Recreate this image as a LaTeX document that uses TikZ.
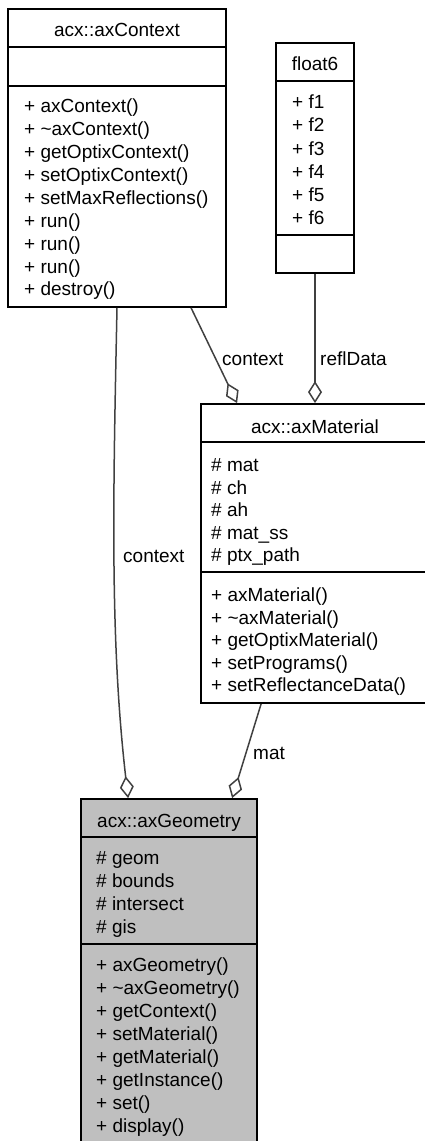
\documentclass[tikz,border=0pt]{standalone}
\usepackage{fontspec}
\setmainfont{Liberation Sans}
\usetikzlibrary{arrows.meta}
\definecolor{linegray}{HTML}{404040}
\definecolor{boxgray}{HTML}{BFBFBF}
\tikzset{
  classbox/.style={draw=black, line width=1.8pt, rectangle, inner sep=0pt, fill=white},
  member/.style={anchor=base west, inner sep=0pt},
  ctitle/.style={anchor=base, inner sep=0pt},
  sepline/.style={draw=black, line width=1.8pt},
  rel/.style={draw=linegray, line width=1.5pt,
    -{Diamond[open, length=22pt, width=14pt, line width=1.5pt]}},
  rellabel/.style={anchor=base west, inner sep=0pt},
}
\begin{document}
\begin{tikzpicture}[x=1pt, y=-1pt, font=\fontsize{19}{23}\selectfont]
\useasboundingbox (0,0) rectangle (425,1141);

% class boxes
\node[classbox, minimum width=218pt, minimum height=298pt] (ctx) at (117,158) {};
\node[classbox, minimum width=78pt, minimum height=230pt] (flt) at (315,158) {};
\node[classbox, minimum width=228pt, minimum height=299pt] (mat) at (315,553.5) {};
\node[classbox, fill=boxgray, minimum width=176pt, minimum height=344pt] (geo) at (169,971) {};

% compartment separators
\draw[sepline] (ctx.west |- 0,47) -- (ctx.east |- 0,47);
\draw[sepline] (ctx.west |- 0,86) -- (ctx.east |- 0,86);
\draw[sepline] (flt.west |- 0,81) -- (flt.east |- 0,81);
\draw[sepline] (flt.west |- 0,235) -- (flt.east |- 0,235);
\draw[sepline] (mat.west |- 0,442) -- (mat.east |- 0,442);
\draw[sepline] (mat.west |- 0,572) -- (mat.east |- 0,572);
\draw[sepline] (geo.west |- 0,837) -- (geo.east |- 0,837);
\draw[sepline] (geo.west |- 0,944) -- (geo.east |- 0,944);

% acx::axContext
\node[ctitle] (ctxT) at (117,36.7) {acx::axContext};
\node[member] (ctxM1) at (24,112.7) {+ axContext()};
\node[member] (ctxM2) at (24,135.6) {+ \textasciitilde axContext()};
\node[member] (ctxM3) at (24,158.5) {+ getOptixContext()};
\node[member] (ctxM4) at (24,181.4) {+ setOptixContext()};
\node[member] (ctxM5) at (24,204.3) {+ setMaxReflections()};
\node[member] (ctxM6) at (24,227.2) {+ run()};
\node[member] (ctxM7) at (24,250.1) {+ run()};
\node[member] (ctxM8) at (24,273.0) {+ run()};
\node[member] (ctxM9) at (24,295.9) {+ destroy()};

% float6
\node[ctitle] (fltT) at (315,70) {float6};
\node[member] (fltA1) at (292,108.7) {+ f1};
\node[member] (fltA2) at (292,131.9) {+ f2};
\node[member] (fltA3) at (292,155.1) {+ f3};
\node[member] (fltA4) at (292,178.3) {+ f4};
\node[member] (fltA5) at (292,201.5) {+ f5};
\node[member] (fltA6) at (292,224.7) {+ f6};

% acx::axMaterial
\node[ctitle] (matT) at (315,433) {acx::axMaterial};
\node[member] (matA1) at (211,471.7) {\# mat};
\node[member] (matA2) at (211,494.2) {\# ch};
\node[member] (matA3) at (211,516.7) {\# ah};
\node[member] (matA4) at (211,539.2) {\# mat\_ss};
\node[member] (matA5) at (211,561.7) {\# ptx\_path};
\node[member] (matM1) at (211,601.7) {+ axMaterial()};
\node[member] (matM2) at (211,624.2) {+ \textasciitilde axMaterial()};
\node[member] (matM3) at (211,646.7) {+ getOptixMaterial()};
\node[member] (matM4) at (211,669.2) {+ setPrograms()};
\node[member] (matM5) at (211,691.7) {+ setReflectanceData()};

% acx::axGeometry
\node[ctitle] (geoT) at (169,827) {acx::axGeometry};
\node[member] (geoA1) at (96,864.7) {\# geom};
\node[member] (geoA2) at (96,887.6) {\# bounds};
\node[member] (geoA3) at (96,910.5) {\# intersect};
\node[member] (geoA4) at (96,933.4) {\# gis};
\node[member] (geoM1) at (96,971.7) {+ axGeometry()};
\node[member] (geoM2) at (96,994.6) {+ \textasciitilde axGeometry()};
\node[member] (geoM3) at (96,1017.5) {+ getContext()};
\node[member] (geoM4) at (96,1040.4) {+ setMaterial()};
\node[member] (geoM5) at (96,1063.3) {+ getMaterial()};
\node[member] (geoM6) at (96,1086.2) {+ getInstance()};
\node[member] (geoM7) at (96,1109.1) {+ set()};
\node[member] (geoM8) at (96,1132.0) {+ display()};

% aggregation relations
\draw[rel] (ctx.south) .. controls (113,500) and (110,640) .. ([xshift=48pt]geo.north west);
\draw[rel] ([xshift=184pt]ctx.south west) -- ([xshift=37pt]mat.north west);
\draw[rel] (flt.south) -- (mat.north);
\draw[rel] ([xshift=61pt]mat.south west) -- ([xshift=152pt]geo.north west);

% relation labels
\node[rellabel] (lblA) at (222,365) {context};
\node[rellabel] (lblB) at (320,365) {reflData};
\node[rellabel] (lblC) at (123,562) {context};
\node[rellabel] (lblD) at (253,759) {mat};
\end{tikzpicture}
\end{document}
